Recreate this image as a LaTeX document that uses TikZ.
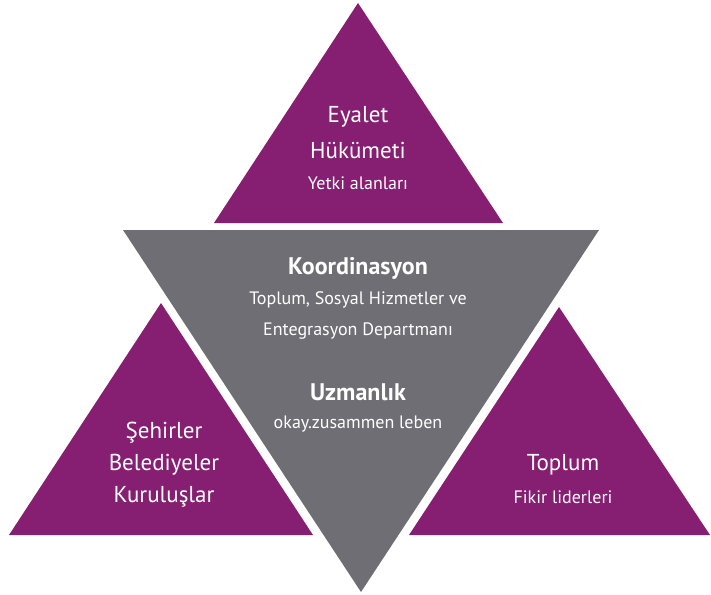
\documentclass[tikz,border=0pt]{standalone}
\usepackage{fontspec}
\setmainfont{PT Sans}
\definecolor{morRenk}{RGB}{134,31,114}
\definecolor{griRenk}{RGB}{111,110,116}

\begin{document}
\begin{tikzpicture}[
      x=1pt, y=-1pt,
      ucgen/.style={fill=morRenk},
      orta/.style={fill=griRenk},
      every node/.style={text=white, inner sep=0pt, anchor=center},
      buyuk/.style={font=\fontsize{23}{27}\selectfont},
      kucuk/.style={font=\fontsize{18}{21}\selectfont},
      kalin/.style={font=\fontsize{24}{28}\selectfont\bfseries}
    ]
    \useasboundingbox (0,0) rectangle (711,594);
    % Köşeler
    \coordinate (ustA) at (358,3);
    \coordinate (ustL) at (214,223);
    \coordinate (ustR) at (503,223);
    \coordinate (griL) at (123,230);
    \coordinate (griR) at (599,230);
    \coordinate (griA) at (361,592);
    \coordinate (solA) at (161,303);
    \coordinate (solL) at (9,535);
    \coordinate (solR) at (313,535);
    \coordinate (sagA) at (559,307);
    \coordinate (sagL) at (409,535);
    \coordinate (sagR) at (710,535);
    \fill[ucgen] (ustA) -- (ustL) -- (ustR) -- cycle;
    \fill[orta] (griL) -- (griR) -- (griA) -- cycle;
    \fill[ucgen] (solA) -- (solL) -- (solR) -- cycle;
    \fill[ucgen] (sagA) -- (sagL) -- (sagR) -- cycle;
    % Üst üçgen
    \node[buyuk] (eyalet) at (358,117) {Eyalet};
    \node[buyuk] (hukumet) at (358,150) {Hükümeti};
    \node[kucuk] (yetki) at (358,183) {Yetki alanları};
    % Orta üçgen
    \node[kalin] (koord) at (358,268) {Koordinasyon};
    \node[kucuk] (sosyal) at (358,300) {Toplum, Sosyal Hizmetler ve};
    \node[kucuk] (departman) at (358,331) {Entegrasyon Departmanı};
    \node[kalin] (uzman) at (358,392) {Uzmanlık};
    \node[kucuk] (okay) at (358,424) {okay.zusammen leben};
    % Sol üçgen
    \node[buyuk] (sehir) at (164,433) {Şehirler};
    \node[buyuk] (beled) at (164,465) {Belediyeler};
    \node[buyuk] (kurulus) at (164,497) {Kuruluşlar};
    % Sağ üçgen
    \node[buyuk] (toplum) at (563,465) {Toplum};
    \node[kucuk] (fikir) at (563,497) {Fikir liderleri};
  \end{tikzpicture}
\end{document}
